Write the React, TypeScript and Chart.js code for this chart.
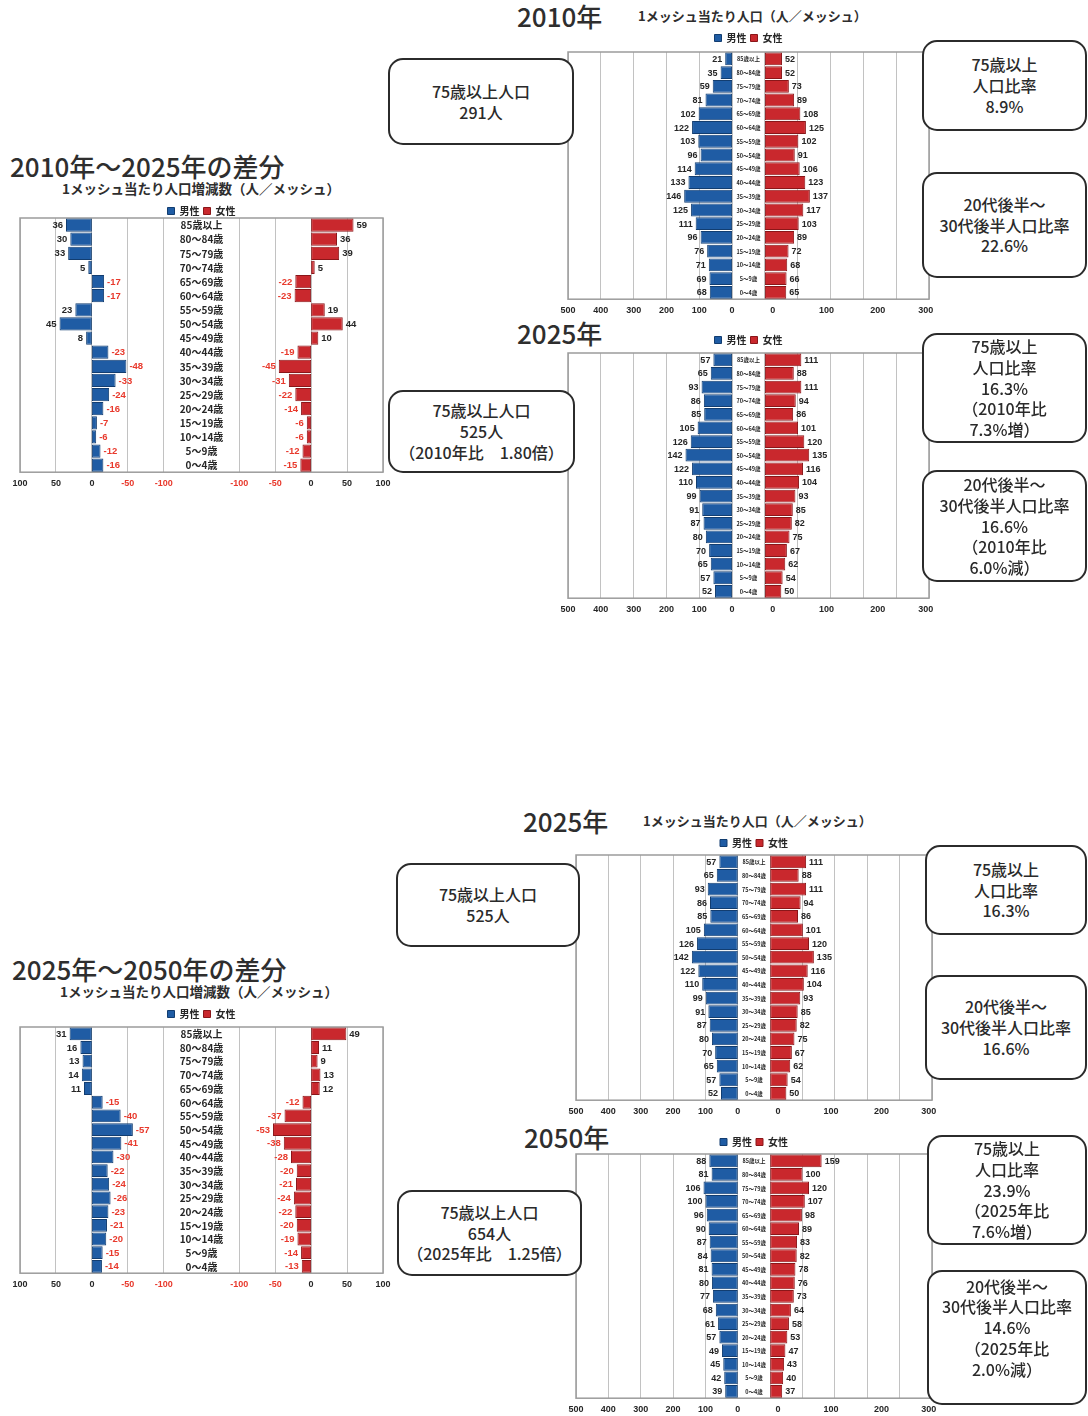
import React, { useEffect, useRef } from 'react';
import { Chart, registerables } from 'chart.js';

Chart.register(...registerables);

// ---------------- data ----------------
const ageGroups = ['85歳以上', '80～84歳', '75～79歳', '70～74歳', '65～69歳', '60～64歳', '55～59歳', '50～54歳', '45～49歳', '40～44歳', '35～39歳', '30～34歳', '25～29歳', '20～24歳', '15～19歳', '10～14歳', '5～9歳', '0～4歳'];
const seriesNames = ['男性', '女性'];

const male2010 = [21, 35, 59, 81, 102, 122, 103, 96, 114, 133, 146, 125, 111, 96, 76, 71, 69, 68];
const female2010 = [52, 52, 73, 89, 108, 125, 102, 91, 106, 123, 137, 117, 103, 89, 72, 68, 66, 65];
const male2025 = [57, 65, 93, 86, 85, 105, 126, 142, 122, 110, 99, 91, 87, 80, 70, 65, 57, 52];
const female2025 = [111, 88, 111, 94, 86, 101, 120, 135, 116, 104, 93, 85, 82, 75, 67, 62, 54, 50];
const male2050 = [88, 81, 106, 100, 96, 90, 87, 84, 81, 80, 77, 68, 61, 57, 49, 45, 42, 39];
const female2050 = [159, 100, 120, 107, 98, 89, 83, 82, 78, 76, 73, 64, 58, 53, 47, 43, 40, 37];
const maleDiff2010to2025 = [36, 30, 33, 5, -17, -17, 23, 45, 8, -23, -48, -33, -24, -16, -7, -6, -12, -16];
const femaleDiff2010to2025 = [59, 36, 39, 5, -22, -23, 19, 44, 10, -19, -45, -31, -22, -14, -6, -6, -12, -15];
const maleDiff2025to2050 = [31, 16, 13, 14, 11, -15, -40, -57, -41, -30, -22, -24, -26, -23, -21, -20, -15, -14];
const femaleDiff2025to2050 = [49, 11, 9, 13, 12, -12, -37, -53, -38, -28, -20, -21, -24, -22, -20, -19, -14, -13];

const popMaleTicks = [500, 400, 300, 200, 100, 0];
const popFemaleGridTicks = [0, 100, 200, 300, 400, 500];
const popFemaleTickLabels = [0, 100, 200, 300];
const diffTicks = [100, 50, 0, -50, -100];

// ---------------- style / layout ----------------
const FONT = "'Noto Sans CJK JP', 'Noto Sans', sans-serif";
const NUM_FONT = "'Liberation Sans', 'DejaVu Sans', sans-serif";
const BLUE = '#1f5ca4';
const BLUE_EDGE = '#123d70';
const RED = '#c9282d';
const RED_EDGE = '#8a1619';
const NEG_TEXT = '#e8392c';
const TEXT = '#262626';
const GRID = '#c2c2c2';
const FEMALE_LABEL_SHIFT = [24, 188, 344, 490];

type Kind = 'pop' | 'diff';
interface TickDef { value: number; label: string; grid: boolean; color: string }

function geometry(kind: Kind) {
  if (kind === 'pop') return { mB: 500, fB: 600, max: 1100, center: 550 };
  return { mB: 100, fB: 405, max: 505, center: 252.5 };
}

function buildTicks(kind: Kind): TickDef[] {
  const g = geometry(kind);
  const list: TickDef[] = [];
  if (kind === 'pop') {
    popMaleTicks.forEach((t) => list.push({ value: g.mB - t, label: String(t), grid: true, color: TEXT }));
    popFemaleGridTicks.forEach((t) => list.push({ value: g.fB + t, label: '', grid: true, color: TEXT }));
    popFemaleTickLabels.forEach((t, i) => list.push({ value: g.fB + FEMALE_LABEL_SHIFT[i], label: String(t), grid: false, color: TEXT }));
  } else {
    diffTicks.forEach((t) => list.push({ value: g.mB - t, label: String(t), grid: true, color: t < 0 ? NEG_TEXT : TEXT }));
    diffTicks.slice().reverse().forEach((t) => list.push({ value: g.fB + t, label: String(t), grid: true, color: t < 0 ? NEG_TEXT : TEXT }));
  }
  return list.sort((a, b) => a.value - b.value);
}

interface PyramidProps {
  kind: Kind;
  male: number[];
  female: number[];
  boxLeft: number;
  boxTop: number;
  boxRight: number;
  boxBottom: number;
  legendGap: number;
}

function Pyramid(p: PyramidProps) {
  const ref = useRef<HTMLCanvasElement | null>(null);
  const padX = 16;
  const legendH = p.legendGap + 9;
  const boxW = p.boxRight - p.boxLeft;
  const boxH = p.boxBottom - p.boxTop;
  const w = boxW + padX * 2;
  const h = legendH + boxH + 27;

  useEffect(() => {
    const canvas = ref.current;
    if (!canvas) return;
    const g = geometry(p.kind);
    const ticks = buildTicks(p.kind);
    const tickMap = new Map<number, TickDef>();
    ticks.forEach((t) => tickMap.set(t.value, t));

    const plotBox = {
      id: 'plotBox',
      beforeDatasetsDraw(chart: any) {
        const { ctx, chartArea: a } = chart;
        ctx.save();
        ctx.strokeStyle = '#9c9c9c';
        ctx.lineWidth = 1.5;
        ctx.strokeRect(a.left, a.top, a.right - a.left, a.bottom - a.top);
        ctx.restore();
      },
    };

    const labels = {
      id: 'barLabels',
      afterDatasetsDraw(chart: any) {
        const { ctx } = chart;
        const xs = chart.scales.x;
        ctx.save();
        ctx.textBaseline = 'middle';
        [p.male, p.female].forEach((vals, di) => {
          const meta = chart.getDatasetMeta(di);
          vals.forEach((v, i) => {
            const el = meta.data[i];
            if (!el) return;
            const base = di === 0 ? g.mB : g.fB;
            const end = di === 0 ? g.mB - v : g.fB + v;
            const pe = xs.getPixelForValue(end);
            const pb = xs.getPixelForValue(base);
            const leftward = pe < pb || (pe === pb && di === 0);
            ctx.font = `bold ${p.kind === 'pop' ? 9 : 9.5}px ${NUM_FONT}`;
            ctx.fillStyle = p.kind === 'diff' && v < 0 ? NEG_TEXT : TEXT;
            ctx.textAlign = leftward ? 'right' : 'left';
            ctx.fillText(String(v), leftward ? pe - 3 : pe + 3, el.y + 0.5);
          });
        });
        const meta0 = chart.getDatasetMeta(0);
        const cx = xs.getPixelForValue(g.center);
        ctx.textAlign = 'center';
        ctx.fillStyle = TEXT;
        ctx.font = p.kind === 'pop' ? `bold 5.5px ${FONT}` : `bold 10px ${FONT}`;
        chart.data.labels.forEach((lab: string, i: number) => {
          const el = meta0.data[i];
          if (!el) return;
          ctx.fillText(lab, cx, el.y + 0.5);
        });
        ctx.restore();
      },
    };

    const chart = new Chart(canvas, {
      type: 'bar',
      data: {
        labels: ageGroups,
        datasets: [
          {
            label: seriesNames[0],
            data: p.male.map((v) => [g.mB, g.mB - v]),
            backgroundColor: BLUE,
            borderColor: BLUE_EDGE,
            borderWidth: 1,
            borderSkipped: false,
            barPercentage: 0.94,
            categoryPercentage: 1,
            grouped: false,
          } as any,
          {
            label: seriesNames[1],
            data: p.female.map((v) => [g.fB, g.fB + v]),
            backgroundColor: RED,
            borderColor: RED_EDGE,
            borderWidth: 1,
            borderSkipped: false,
            barPercentage: 0.94,
            categoryPercentage: 1,
            grouped: false,
          } as any,
        ],
      },
      options: {
        indexAxis: 'y',
        animation: false,
        responsive: false,
        maintainAspectRatio: false,
        layout: { padding: { left: padX, right: padX, top: 0, bottom: 4 } },
        plugins: {
          legend: {
            display: true,
            position: 'top',
            maxHeight: legendH,
            labels: {
              boxWidth: 7,
              boxHeight: 7,
              padding: 4,
              color: TEXT,
              font: { size: 10, weight: 'bold', family: FONT },
            },
          },
          tooltip: { enabled: false },
        },
        scales: {
          x: {
            type: 'linear',
            min: 0,
            max: g.max,
            afterBuildTicks: (scale: any) => {
              scale.ticks = ticks.map((t) => ({ value: t.value }));
            },
            ticks: {
              autoSkip: false,
              maxRotation: 0,
              minRotation: 0,
              padding: 6,
              callback: (value: any) => (tickMap.get(Number(value)) || { label: '' }).label,
              color: (ctx: any) => (ctx.tick && tickMap.get(ctx.tick.value) ? tickMap.get(ctx.tick.value)!.color : TEXT),
              font: { size: 9, weight: 'bold', family: NUM_FONT },
            },
            grid: {
              drawTicks: false,
              lineWidth: 1,
              color: (ctx: any) => (ctx.tick && tickMap.get(ctx.tick.value) && tickMap.get(ctx.tick.value)!.grid ? GRID : 'rgba(0,0,0,0)'),
            },
            border: { display: false },
          },
          y: { type: 'category', display: false },
        },
      } as any,
      plugins: [plotBox, labels],
    });
    return () => chart.destroy();
  }, []);

  return (
    <canvas
      ref={ref}
      width={w}
      height={h}
      style={{ position: 'absolute', left: p.boxLeft - padX, top: p.boxTop - legendH, width: w, height: h }}
    />
  );
}

function Title(props: { text: string; left: number; top: number; size: number; bold?: boolean }) {
  return (
    <div
      style={{
        position: 'absolute',
        left: props.left,
        top: props.top,
        fontSize: props.size,
        lineHeight: 1,
        whiteSpace: 'nowrap',
        fontFamily: FONT,
        fontWeight: props.bold ? 700 : 500,
        color: '#2e2e2e',
      }}
    >
      {props.text}
    </div>
  );
}

function InfoBox(props: { lines: string[]; left: number; top: number; right: number; bottom: number; padBottom?: number }) {
  return (
    <div
      style={{
        position: 'absolute',
        left: props.left,
        top: props.top,
        width: props.right - props.left,
        height: props.bottom - props.top,
        boxSizing: 'border-box',
        border: '2px solid #2b2b2b',
        borderRadius: 15,
        background: '#ffffff',
        display: 'flex',
        flexDirection: 'column',
        alignItems: 'center',
        justifyContent: 'center',
        paddingBottom: props.padBottom || 0,
        fontFamily: FONT,
        fontWeight: 500,
        fontSize: 16,
        lineHeight: '20.8px',
        color: '#2a2a2a',
        textAlign: 'center',
        whiteSpace: 'nowrap',
        zIndex: 2,
      }}
    >
      {props.lines.map((l, i) => (
        <div key={i}>{l}</div>
      ))}
    </div>
  );
}

export default function App() {
  return (
    <div
      style={{
        position: 'absolute',
        left: 0,
        top: 0,
        width: 1088,
        height: 1416,
        overflow: 'hidden',
        background: '#ffffff',
      }}
    >
      {/* upper half */}
      <Title text="2010年" left={517} top={3} size={26} />
      <Title text="1メッシュ当たり人口（人／メッシュ）" left={638} top={9} size={13} bold />
      <Title text="2010年～2025年の差分" left={10} top={153} size={26} />
      <Title text="1メッシュ当たり人口増減数（人／メッシュ）" left={62} top={182} size={13.5} bold />
      <Title text="2025年" left={517} top={320} size={26} />

      <Pyramid kind="pop" male={male2010} female={female2010} boxLeft={568} boxTop={52} boxRight={929} boxBottom={299} legendGap={14} />
      <Pyramid kind="pop" male={male2025} female={female2025} boxLeft={568} boxTop={353} boxRight={929} boxBottom={598} legendGap={13} />
      <Pyramid kind="diff" male={maleDiff2010to2025} female={femaleDiff2010to2025} boxLeft={20} boxTop={218} boxRight={383} boxBottom={472} legendGap={7} />

      <InfoBox lines={['75歳以上人口', '291人']} left={388} top={58} right={574} bottom={145} />
      <InfoBox lines={['75歳以上', '人口比率', '8.9%']} left={922} top={40} right={1087} bottom={131} />
      <InfoBox lines={['20代後半～', '30代後半人口比率', '22.6%']} left={922} top={172} right={1087} bottom={278} />
      <InfoBox lines={['75歳以上人口', '525人', '（2010年比　1.80倍）']} left={388} top={390} right={575} bottom={473} />
      <InfoBox lines={['75歳以上', '人口比率', '16.3%', '（2010年比', '7.3%増）']} left={922} top={333} right={1087} bottom={443} />
      <InfoBox lines={['20代後半～', '30代後半人口比率', '16.6%', '（2010年比', '6.0%減）']} left={922} top={470} right={1087} bottom={582} />

      {/* lower half */}
      <Title text="2025年" left={523} top={808} size={26} />
      <Title text="1メッシュ当たり人口（人／メッシュ）" left={643} top={814} size={13} bold />
      <Title text="2025年～2050年の差分" left={12} top={956} size={26} />
      <Title text="1メッシュ当たり人口増減数（人／メッシュ）" left={60} top={985} size={13.5} bold />
      <Title text="2050年" left={524} top={1124} size={26} />

      <Pyramid kind="pop" male={male2025} female={female2025} boxLeft={576} boxTop={855} boxRight={932} boxBottom={1100} legendGap={12} />
      <Pyramid kind="pop" male={male2050} female={female2050} boxLeft={576} boxTop={1154} boxRight={932} boxBottom={1398} legendGap={12} />
      <Pyramid kind="diff" male={maleDiff2025to2050} female={femaleDiff2025to2050} boxLeft={20} boxTop={1027} boxRight={383} boxBottom={1273} legendGap={13} />

      <InfoBox lines={['75歳以上人口', '525人']} left={396} top={863} right={580} bottom={947} />
      <InfoBox lines={['75歳以上', '人口比率', '16.3%']} left={925} top={845} right={1087} bottom={935} />
      <InfoBox lines={['20代後半～', '30代後半人口比率', '16.6%']} left={925} top={975} right={1087} bottom={1080} />
      <InfoBox lines={['75歳以上人口', '654人', '（2025年比　1.25倍）']} left={397} top={1190} right={582} bottom={1276} />
      <InfoBox lines={['75歳以上', '人口比率', '23.9%', '（2025年比', '7.6%増）']} left={927} top={1135} right={1087} bottom={1245} />
      <InfoBox lines={['20代後半～', '30代後半人口比率', '14.6%', '（2025年比', '2.0%減）']} left={927} top={1270} right={1087} bottom={1405} padBottom={20} />
    </div>
  );
}
